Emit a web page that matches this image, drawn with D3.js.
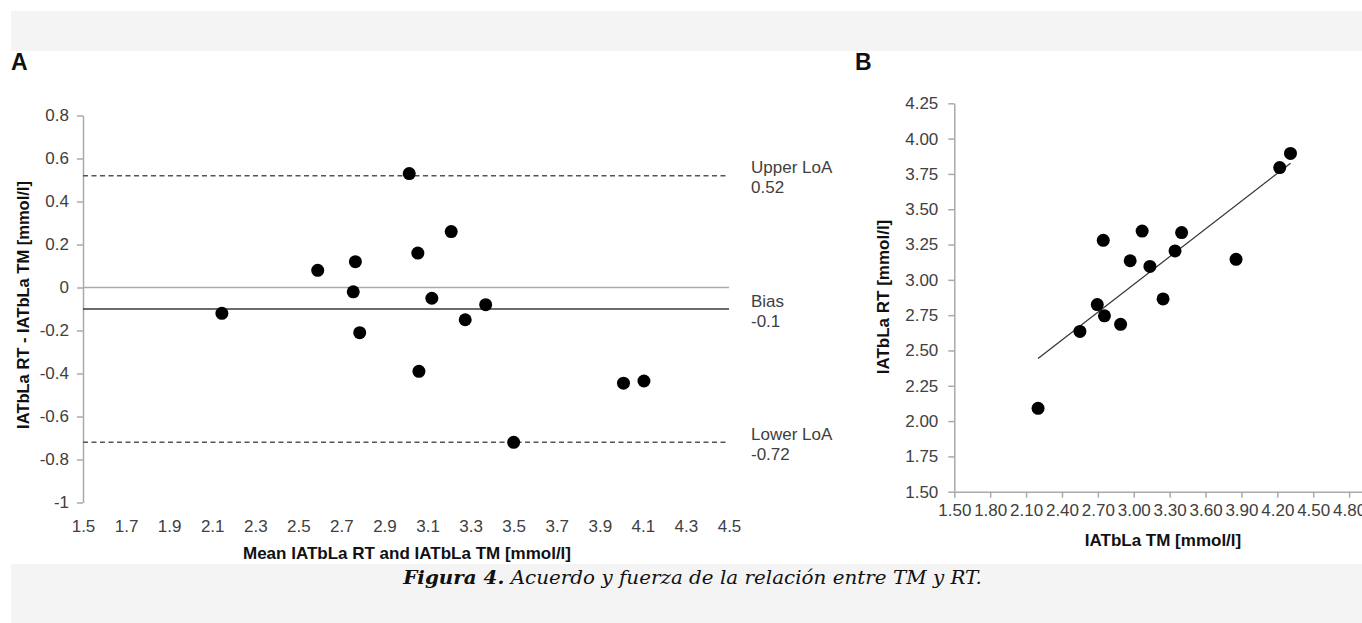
<!DOCTYPE html>
<html>
<head>
<meta charset="utf-8">
<script src="https://cdn.jsdelivr.net/npm/d3@7"></script>
<style>
  html, body { margin: 0; padding: 0; background: #fff; }
  svg { display: block; }
</style>
</head>
<body>
<svg id="chart" width="1362" height="623"></svg>
<script>
// ---- Panel A data (Bland-Altman) ----
const meanVals = [2.145, 2.59, 2.765, 2.755, 2.785, 3.015, 3.055, 3.06, 3.12, 3.21, 3.275, 3.37, 3.50, 4.01, 4.105];
const diffVals = [-0.12, 0.08, 0.12, -0.02, -0.21, 0.53, 0.16, -0.39, -0.05, 0.26, -0.15, -0.08, -0.72, -0.445, -0.435];
const biasVal = -0.1;
const upperLoA = 0.52;
const lowerLoA = -0.72;
const refLines = [
  { name: "Upper LoA", label: "0.52", value: upperLoA, kind: "dash" },
  { name: "Bias", label: "-0.1", value: biasVal, kind: "bias" },
  { name: "Lower LoA", label: "-0.72", value: lowerLoA, kind: "dash" }
];
const aXTicks = [1.5, 1.7, 1.9, 2.1, 2.3, 2.5, 2.7, 2.9, 3.1, 3.3, 3.5, 3.7, 3.9, 4.1, 4.3, 4.5];
const aYTicks = [0.8, 0.6, 0.4, 0.2, 0, -0.2, -0.4, -0.6, -0.8, -1];

// ---- Panel B data (correlation) ----
const tmVals = [4.31, 4.22, 3.07, 3.40, 2.745, 3.345, 2.97, 3.135, 3.855, 3.245, 2.695, 2.755, 2.89, 2.55, 2.20];
const rtVals = [3.895, 3.795, 3.345, 3.335, 3.28, 3.205, 3.135, 3.095, 3.145, 2.865, 2.825, 2.745, 2.685, 2.635, 2.09];
const bXTicks = [1.5, 1.8, 2.1, 2.4, 2.7, 3.0, 3.3, 3.6, 3.9, 4.2, 4.5, 4.8];
const bYTicks = [1.5, 1.75, 2.0, 2.25, 2.5, 2.75, 3.0, 3.25, 3.5, 3.75, 4.0, 4.25];

const captionBold = "Figura 4.";
const captionRest = " Acuerdo y fuerza de la relación entre TM y RT.";

const SANS = "'Liberation Sans', Arial, sans-serif";
const svg = d3.select("#chart");
const axisGray = "#aaaaaa";
const tickText = "#404040";
const tickSize = 17;

// background bands
svg.append("rect").attr("x", 11).attr("y", 11).attr("width", 1351).attr("height", 40).attr("fill", "#f4f4f4");
svg.append("rect").attr("x", 11).attr("y", 564).attr("width", 1351).attr("height", 59).attr("fill", "#f4f4f4");

function styleTicks(g) {
  g.selectAll(".tick text").style("font-family", SANS).style("font-size", tickSize + "px").attr("fill", tickText);
  g.selectAll(".tick line").attr("stroke", axisGray).attr("stroke-width", 1.5);
  g.select(".domain").attr("stroke", axisGray).attr("stroke-width", 1.5);
}
function label(parent, txt, x, y, size, bold, anchor, rot) {
  const t = parent.append("text")
    .style("font-family", SANS).style("font-size", size + "px")
    .style("font-weight", bold ? "bold" : "normal")
    .attr("fill", bold ? "#111" : tickText)
    .attr("text-anchor", anchor || "start").text(txt);
  if (rot) t.attr("transform", `translate(${x},${y}) rotate(${rot})`);
  else t.attr("x", x).attr("y", y);
  return t;
}

// ================= Panel A =================
const ax = d3.scaleLinear().domain([1.5, 4.5]).range([83, 729]);
const ay = d3.scaleLinear().domain([-1, 0.8]).range([502.5, 115.5]);
const gA = svg.append("g");

label(svg, "A", 11, 70, 23, true);

const yAxisA = gA.append("g").attr("transform", `translate(${ax.range()[0]},0)`)
  .call(d3.axisLeft(ay).tickValues(aYTicks).tickSize(6).tickSizeOuter(0).tickPadding(8)
    .tickFormat(d => String(+d.toFixed(1))));
styleTicks(yAxisA);

const xAxisA = gA.append("g").attr("transform", `translate(0,${ay(-1)})`)
  .call(d3.axisBottom(ax).tickValues(aXTicks).tickSize(0).tickPadding(17).tickFormat(d => d.toFixed(1)));
xAxisA.select(".domain").remove();
styleTicks(xAxisA);

// zero line
gA.append("line").attr("x1", ax(1.5)).attr("x2", ax(4.5)).attr("y1", ay(0)).attr("y2", ay(0))
  .attr("stroke", "#aaaaaa").attr("stroke-width", 1.5);

refLines.forEach(r => {
  gA.append("line").attr("x1", ax(1.5)).attr("x2", ax(4.5)).attr("y1", ay(r.value)).attr("y2", ay(r.value))
    .attr("stroke", r.kind === "bias" ? "#3a3a3a" : "#555")
    .attr("stroke-width", 1.6)
    .attr("stroke-dasharray", r.kind === "dash" ? "5,3.5" : null);
  label(gA, r.name, 751, ay(r.value) - 2.5, tickSize, false);
  label(gA, r.label, 751, ay(r.value) + 17.5, tickSize, false);
});

gA.selectAll("circle.pt").data(meanVals.map((m, i) => [m, diffVals[i]])).enter()
  .append("circle").attr("class", "pt")
  .attr("cx", d => ax(d[0])).attr("cy", d => ay(d[1])).attr("r", 6.5).attr("fill", "#000");

label(gA, "Mean IATbLa RT and IATbLa TM [mmol/l]", 407, 559, 17, true, "middle");
label(gA, "IATbLa RT - IATbLa TM [mmol/l]", 29, 305, 16.5, true, "middle", -90);

// ================= Panel B =================
const bx = d3.scaleLinear().domain([1.5, 5.1]).range([954.3, 1385]);
const by = d3.scaleLinear().domain([1.5, 4.25]).range([491.7, 103.3]);
const gB = svg.append("g");

label(svg, "B", 855, 70, 23, true);

const yAxisB = gB.append("g").attr("transform", `translate(${bx(1.5)},0)`)
  .call(d3.axisLeft(by).tickValues(bYTicks).tickSize(6).tickSizeOuter(0).tickPadding(10).tickFormat(d => d.toFixed(2)));
styleTicks(yAxisB);

const xAxisB = gB.append("g").attr("transform", `translate(0,${by(1.5)})`)
  .call(d3.axisBottom(bx).tickValues(bXTicks).tickSize(6).tickSizeOuter(0).tickPadding(6).tickFormat(d => d.toFixed(2)));
styleTicks(xAxisB);

// least-squares regression line
const mx = d3.mean(tmVals), my = d3.mean(rtVals);
const sxy = d3.sum(tmVals, (x, i) => (x - mx) * (rtVals[i] - my));
const sxx = d3.sum(tmVals, x => (x - mx) * (x - mx));
const slope = sxy / sxx, icpt = my - slope * mx;
const [xmin, xmax] = d3.extent(tmVals);
gB.append("line").attr("x1", bx(xmin)).attr("y1", by(icpt + slope * xmin))
  .attr("x2", bx(xmax)).attr("y2", by(icpt + slope * xmax))
  .attr("stroke", "#333").attr("stroke-width", 1.2);

gB.selectAll("circle.pt").data(tmVals.map((t, i) => [t, rtVals[i]])).enter()
  .append("circle").attr("class", "pt")
  .attr("cx", d => bx(d[0])).attr("cy", d => by(d[1])).attr("r", 6.5).attr("fill", "#000");

label(gB, "IATbLa TM [mmol/l]", 1163, 546, 17, true, "middle");
label(gB, "IATbLa RT [mmol/l]", 889, 297, 17, true, "middle", -90);

// ================= Caption =================
const capG = svg.append("g");
const cap = capG.append("text").attr("x", 0).attr("y", 0).attr("text-anchor", "middle")
  .style("font-family", "'DejaVu Serif', serif").style("font-style", "italic").style("font-size", "18px").attr("fill", "#111");
cap.append("tspan").style("font-weight", "bold").text(captionBold);
cap.append("tspan").text(captionRest);
const w = cap.node().getComputedTextLength();
capG.attr("transform", `translate(692.5,584) scale(${579 / w},1)`);
</script>
</body>
</html>
